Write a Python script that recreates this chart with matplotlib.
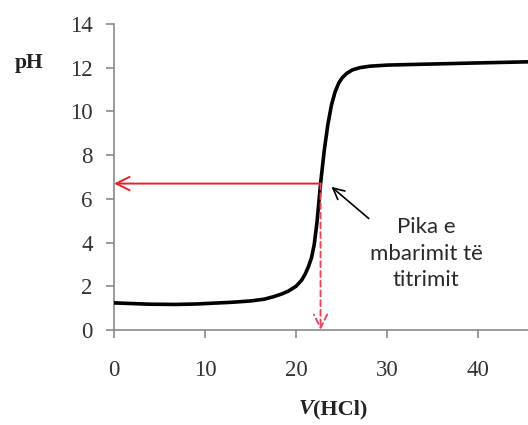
import matplotlib.pyplot as plt

# titration curve
volume = [0, 2, 4, 6.8, 9, 11, 13, 15, 16.5, 17.5, 18.5, 19.2, 20, 20.6, 21.0,
          21.35, 21.7, 22.0, 22.3, 22.7, 23.1, 23.5, 23.9, 24.3, 24.7, 25.1,
          25.6, 26.2, 27.0, 28.1, 30, 32.9, 36, 40, 45.5]
ph = [1.24, 1.21, 1.18, 1.17, 1.19, 1.23, 1.27, 1.33, 1.41, 1.52, 1.66, 1.79,
      2.0, 2.27, 2.55, 2.88, 3.3, 3.9, 4.9, 6.7, 8.2, 9.4, 10.3, 10.9, 11.3,
      11.55, 11.75, 11.9, 12.0, 12.07, 12.12, 12.15, 12.18, 12.22, 12.27]

eq_volume = 22.7
eq_ph = 6.7

xticks = [0, 10, 20, 30, 40]
yticks = [0, 2, 4, 6, 8, 10, 12, 14]
label_text = "Pika e\nmbarimit të\ntitrimit"

fig = plt.figure(figsize=(5.28, 4.25), dpi=100)
ax = fig.add_axes([0.216, 0.2235, 0.784, 0.72])

ax.plot(volume, ph, color="black", lw=2.6, solid_capstyle="round", zorder=3)

# red arrows to the axes
ax.annotate("", xy=(0, eq_ph), xytext=(eq_volume, eq_ph),
            arrowprops=dict(arrowstyle="->", color="#e0242c", lw=1.4,
                            mutation_scale=24, shrinkA=0, shrinkB=0))
ax.annotate("", xy=(eq_volume, 0), xytext=(eq_volume, eq_ph),
            arrowprops=dict(arrowstyle="->", color="#e04a5a", lw=1.4, ls=(0, (3, 2)),
                            mutation_scale=24, shrinkA=0, shrinkB=0))

ax.annotate("", xy=(23.9, 6.55), xytext=(28.0, 5.1),
            arrowprops=dict(arrowstyle="->", color="black", lw=1.2,
                            mutation_scale=20, shrinkA=0, shrinkB=0))
ax.text(34.3, 3.5, label_text, ha="center", va="center", fontsize=16,
        family="Lato", linespacing=1.42, color="#2a2a2a")

ax.set_xlim(0, 45.5)
ax.set_ylim(0, 14)
ax.set_xticks(xticks)
ax.set_yticks(yticks)
for s in ["top", "right"]:
    ax.spines[s].set_visible(False)
for s in ["left", "bottom"]:
    ax.spines[s].set_color("#8a8a8a")
    ax.spines[s].set_linewidth(1.2)
ax.tick_params(colors="#8a8a8a", length=5.5, width=1.2, labelcolor="#333333",
               labelsize=16.5, labelfontfamily="Liberation Serif")
ax.tick_params(axis="x", pad=16)
ax.tick_params(axis="y", pad=10)

fig.text(0.055, 0.852, "pH", fontsize=15.5, fontweight="bold",
         family="Liberation Serif", ha="center", va="center", color="#222222")

# axis title: italic V followed by (HCl)
t1 = fig.text(0.565, 0.037, "V", fontsize=16, fontweight="bold", fontstyle="italic",
              family="Liberation Serif", ha="left", va="center", color="#222222")
fig.canvas.draw()
bb = t1.get_window_extent(fig.canvas.get_renderer())
fig.text(bb.x1 / fig.bbox.width, 0.037, "(HCl)", fontsize=16, fontweight="bold",
         family="Liberation Serif", ha="left", va="center", color="#222222")

fig.savefig("out.png", dpi=100)
